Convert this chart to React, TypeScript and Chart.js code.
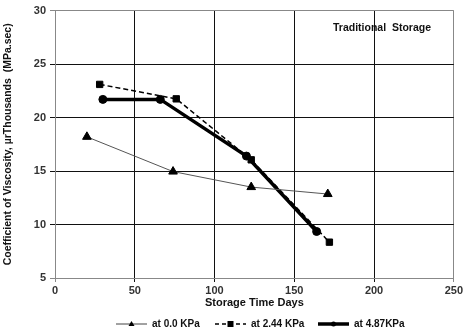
import React, { useEffect, useRef } from "react";
import { Chart, registerables } from "chart.js";

Chart.register(...registerables);

const seriesNames = ["at 0.0 KPa", "at 2.44 KPa", "at 4.87KPa"];
const days0 = [20, 74, 123, 171];
const visc0 = [18.2, 14.95, 13.5, 12.85];
const days244 = [28, 76, 123, 172];
const visc244 = [23.1, 21.75, 16.05, 8.35];
const days487 = [30, 66, 120, 164];
const visc487 = [21.7, 21.7, 16.4, 9.35];
const xTicks = [0, 50, 100, 150, 200, 250];
const yTicks = [5, 10, 15, 20, 25, 30];
const chartTitle = "Traditional  Storage";
const xTitle = "Storage Time Days";
const yTitle = "Coefficient of Viscosity, \u00b5rThousands  (MPa.sec)";

const FONT = "Arial, 'Liberation Sans', sans-serif";

const toPts = (xs: number[], ys: number[]) => xs.map((x, i) => ({ x, y: ys[i] }));

const legendStyles = [
  { color: "#444", width: 1, dash: [] as number[], point: "triangle" },
  { color: "#000", width: 1.5, dash: [4, 3], point: "rect" },
  { color: "#000", width: 3.5, dash: [] as number[], point: "circle" },
];

const extrasPlugin = {
  id: "extras",
  afterDraw(chart: any) {
    const ctx = chart.ctx as CanvasRenderingContext2D;
    ctx.save();
    ctx.fillStyle = "#111";
    ctx.font = `bold 10.5px ${FONT}`;
    ctx.textAlign = "center";
    ctx.textBaseline = "middle";
    ctx.fillText(chartTitle, 382, 28);
    const y = 324;
    const xs = [116, 215, 318];
    ctx.font = `bold 10px ${FONT}`;
    ctx.textAlign = "left";
    legendStyles.forEach((s, i) => {
      const x0 = xs[i];
      const x1 = x0 + 31;
      ctx.strokeStyle = s.color;
      ctx.lineWidth = s.width;
      ctx.setLineDash(s.dash);
      ctx.beginPath();
      ctx.moveTo(x0, y);
      ctx.lineTo(x1, y);
      ctx.stroke();
      ctx.setLineDash([]);
      const cx = (x0 + x1) / 2;
      ctx.fillStyle = "#000";
      ctx.beginPath();
      if (s.point === "triangle") {
        ctx.moveTo(cx, y - 3);
        ctx.lineTo(cx + 3, y + 2);
        ctx.lineTo(cx - 3, y + 2);
        ctx.closePath();
      } else if (s.point === "rect") {
        ctx.rect(cx - 3, y - 3, 6, 6);
      } else {
        ctx.arc(cx, y, 2.5, 0, Math.PI * 2);
      }
      ctx.fill();
      ctx.fillStyle = "#111";
      ctx.fillText(seriesNames[i], x1 + 5, y);
    });
    ctx.restore();
  },
};

export default function App() {
  const ref = useRef<HTMLCanvasElement | null>(null);
  useEffect(() => {
    document.body.style.margin = "0";
    const canvas = ref.current!;
    const chart = new Chart(canvas, {
      type: "line",
      data: {
        datasets: [
          {
            label: seriesNames[0],
            data: toPts(days0, visc0),
            borderColor: "#555",
            borderWidth: 1,
            pointStyle: "triangle",
            pointRadius: 5,
            pointBackgroundColor: "#000",
            pointBorderColor: "#000",
            pointBorderWidth: 1,
          },
          {
            label: seriesNames[1],
            data: toPts(days244, visc244),
            borderColor: "#000",
            borderWidth: 1.5,
            borderDash: [5, 3],
            pointStyle: "rect",
            pointRadius: 4.5,
            pointBackgroundColor: "#000",
            pointBorderColor: "#000",
            pointBorderWidth: 1,
          },
          {
            label: seriesNames[2],
            data: toPts(days487, visc487),
            borderColor: "#000",
            borderWidth: 3.5,
            pointStyle: "circle",
            pointRadius: 4,
            pointBackgroundColor: "#000",
            pointBorderColor: "#000",
            pointBorderWidth: 1,
          },
        ],
      },
      options: {
        responsive: false,
        animation: false,
        layout: { padding: { left: 0, right: 8, top: 10, bottom: 22 } },
        plugins: { legend: { display: false }, tooltip: { enabled: false }, title: { display: false } },
        scales: {
          x: {
            type: "linear",
            min: 0,
            max: 250,
            afterBuildTicks: (s: any) => {
              s.ticks = xTicks.map((v) => ({ value: v }));
            },
            afterFit: (s: any) => {
              s.height = 32;
            },
            ticks: {
              color: "#333",
              font: { family: FONT, size: 11, weight: "bold" },
              padding: 2,
              maxRotation: 0,
            },
            grid: {
              color: (c: any) => (c.tick && (c.tick.value === 250 || c.tick.value === 0) ? "#888" : "#111"),
              lineWidth: 1,
              tickLength: 4,
              drawTicks: true,
            },
            border: { color: "#888", width: 1 },
            title: {
              display: true,
              text: xTitle,
              color: "#111",
              font: { family: FONT, size: 11, weight: "bold" },
              padding: { top: 0, bottom: 0 },
            },
          },
          y: {
            type: "linear",
            min: 5,
            max: 30,
            afterBuildTicks: (s: any) => {
              s.ticks = yTicks.map((v) => ({ value: v }));
            },
            afterFit: (s: any) => {
              s.width = 55;
            },
            ticks: {
              color: "#333",
              font: { family: FONT, size: 11, weight: "bold" },
              padding: 4,
            },
            grid: {
              color: (c: any) => (c.tick && (c.tick.value === 30 || c.tick.value === 5) ? "#888" : "#111"),
              lineWidth: 1,
              tickLength: 5,
            },
            border: { color: "#888", width: 1 },
            title: {
              display: true,
              text: yTitle,
              color: "#111",
              font: { family: FONT, size: 10.5, weight: "bold" },
              padding: { top: 2, bottom: 2 },
            },
          },
        },
      },
      plugins: [extrasPlugin],
    } as any);
    return () => chart.destroy();
  }, []);
  return <canvas ref={ref} width={465} height={332} style={{ display: "block" }} />;
}
